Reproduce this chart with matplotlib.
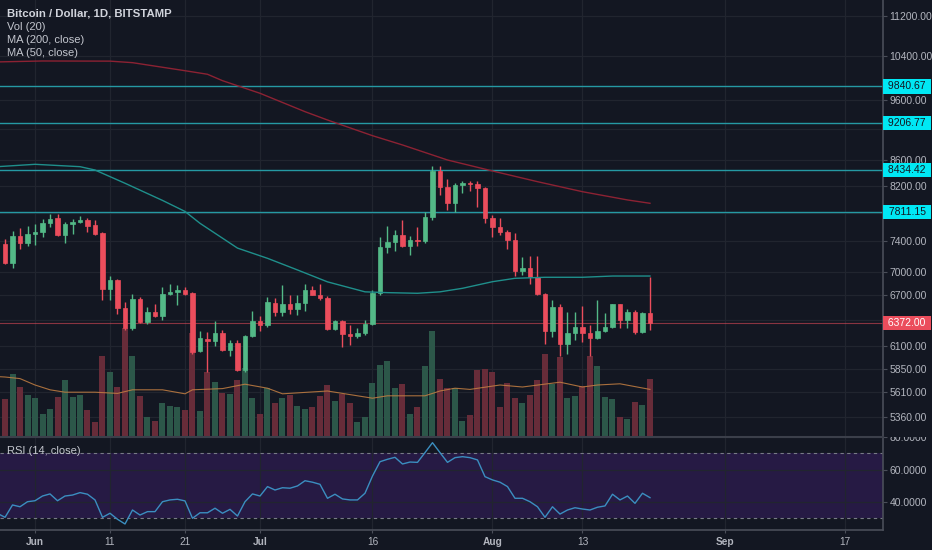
import matplotlib
matplotlib.use('Agg')
import matplotlib.pyplot as plt
import matplotlib.dates as mdates
import matplotlib.transforms as mtransforms
from matplotlib.patches import Rectangle
from matplotlib.ticker import NullLocator
import numpy as np
import pandas as pd

plt.rcParams['font.family'] = ['Liberation Sans', 'DejaVu Sans']

# ---------------- data ----------------
dates = pd.date_range('2018-05-28', '2018-08-22', freq='D')
opens = [7361, 7117, 7475, 7375, 7498, 7525, 7660, 7720, 7488, 7637, 7673, 7698, 7625, 7510, 6777, 6893,
         6551, 6308, 6660, 6384, 6496, 6455, 6718, 6747, 6768, 6735, 6050, 6181, 6157, 6257, 6061, 6143,
         5842, 6219, 6393, 6346, 6605, 6503, 6596, 6532, 6612, 6768, 6706, 6672, 6296, 6393, 6242, 6219,
         6257, 6358, 6734, 7321, 7396, 7488, 7338, 7420, 7400, 7736, 8424, 8184, 7938, 8209, 8245, 8225,
         8169, 7722, 7603, 7534, 7420, 7013, 7043, 6935, 6720, 6280, 6556, 6131, 6257, 6319, 6257, 6192,
         6276, 6326, 6592, 6404, 6496, 6261, 6490]
highs = [7433, 7548, 7581, 7613, 7642, 7712, 7783, 7783, 7668, 7712, 7750, 7720, 7698, 7525, 6940, 6905,
         6622, 6715, 6680, 6555, 6590, 6804, 6843, 6830, 6804, 6745, 6280, 6270, 6390, 6283, 6170, 6170,
         6225, 6515, 6452, 6680, 6668, 6830, 6705, 6705, 6843, 6823, 6843, 6690, 6410, 6400, 6346, 6308,
         6405, 6768, 7465, 7613, 7561, 7698, 7470, 7605, 7808, 8500, 8500, 8296, 8244, 8270, 8270, 8270,
         8175, 7765, 7720, 7561, 7514, 7186, 7200, 7200, 6730, 6644, 6590, 6503, 6503, 6570, 6346, 6644,
         6492, 6600, 6600, 6540, 6527, 6500, 6928]
lows = [7098, 7051, 7294, 7342, 7352, 7460, 7605, 7480, 7375, 7498, 7650, 7530, 7488, 6644, 6644, 6480,
        6290, 6283, 6370, 6360, 6445, 6405, 6700, 6582, 6705, 6020, 6042, 5820, 6100, 6050, 5990, 5836,
        5820, 6207, 6280, 6325, 6446, 6446, 6478, 6467, 6515, 6700, 6644, 6283, 6290, 6089, 6115, 6192,
        6230, 6346, 6700, 7250, 7273, 7330, 7220, 7338, 7380, 7693, 8063, 7841, 7818, 8090, 8112, 7889,
        7660, 7455, 7488, 7294, 6944, 6955, 6840, 6700, 6131, 6207, 5997, 6017, 6170, 6150, 5990, 6180,
        6260, 6308, 6308, 6308, 6240, 6255, 6283]
closes = [7117, 7475, 7375, 7498, 7525, 7660, 7712, 7488, 7637, 7673, 7698, 7618, 7498, 6777, 6893, 6551,
          6308, 6660, 6384, 6496, 6455, 6718, 6747, 6768, 6718, 6042, 6192, 6157, 6257, 6061, 6143, 5842,
          6219, 6393, 6346, 6624, 6503, 6596, 6532, 6612, 6768, 6706, 6672, 6296, 6393, 6242, 6219, 6257,
          6358, 6734, 7321, 7396, 7488, 7338, 7420, 7400, 7736, 8424, 8184, 7938, 8209, 8245, 8225, 8169,
          7722, 7603, 7534, 7420, 7013, 7043, 6935, 6718, 6280, 6556, 6131, 6257, 6319, 6257, 6192, 6276,
          6326, 6592, 6404, 6496, 6261, 6490, 6372]
# volume, thousand BTC
volume = [9.5, 15.7, 12.6, 10.4, 9.7, 5.7, 6.9, 10.1, 14.3, 10.0, 10.5, 6.8, 3.8, 20.3, 16.3, 12.6,
          27.2, 20.3, 10.3, 5.1, 4.1, 8.4, 7.8, 7.4, 6.8, 26.0, 6.5, 16.3, 13.8, 11.1, 10.7, 14.3,
          17.2, 9.8, 5.8, 12.2, 8.4, 9.7, 10.5, 7.8, 6.9, 7.4, 10.3, 13.0, 9.1, 10.8, 8.4, 3.7,
          5.1, 13.4, 18.0, 19.0, 12.3, 13.2, 5.8, 7.4, 17.8, 26.5, 14.5, 12.2, 12.2, 4.1, 5.5, 16.8,
          16.9, 16.3, 7.4, 13.6, 9.7, 8.6, 10.5, 14.3, 20.8, 13.3, 19.9, 9.7, 10.3, 12.8, 20.3, 17.8,
          9.9, 9.4, 5.1, 4.5, 8.8, 8.0, 14.4]
vol_ma_dates = ['2018-05-27', '2018-05-28', '2018-05-30', '2018-06-01', '2018-06-03', '2018-06-05',
                '2018-06-09', '2018-06-12', '2018-06-14', '2018-06-18', '2018-06-21', '2018-06-22',
                '2018-06-26', '2018-06-29', '2018-07-02', '2018-07-04', '2018-07-10', '2018-07-14',
                '2018-07-16', '2018-07-18', '2018-07-23', '2018-07-25', '2018-07-27', '2018-07-29',
                '2018-08-02', '2018-08-05', '2018-08-10', '2018-08-13', '2018-08-15', '2018-08-18',
                '2018-08-22']
vol_ma = [15.1, 15.0, 14.6, 13.0, 11.8, 11.2, 11.2, 10.9, 11.8, 11.8, 10.8, 11.8, 12.1, 13.2, 12.2,
          10.8, 11.5, 10.3, 9.7, 10.3, 10.3, 11.5, 12.2, 11.9, 13.0, 12.5, 13.7, 12.5, 13.0, 13.3, 11.9]
ma200_dates = ['2018-05-27', '2018-06-02', '2018-06-11', '2018-06-14', '2018-06-21', '2018-06-24',
               '2018-06-26', '2018-07-01', '2018-07-07', '2018-07-10', '2018-07-16', '2018-07-20',
               '2018-07-26', '2018-08-01', '2018-08-07', '2018-08-13', '2018-08-19', '2018-08-22']
ma200 = [10295, 10313, 10310, 10281, 10130, 10064, 9946, 9718, 9395, 9252, 8989, 8837, 8596, 8424,
         8260, 8109, 7987, 7938]
ma50_dates = ['2018-05-27', '2018-06-01', '2018-06-07', '2018-06-09', '2018-06-13', '2018-06-18',
              '2018-06-21', '2018-06-23', '2018-06-28', '2018-07-02', '2018-07-06', '2018-07-10',
              '2018-07-15', '2018-07-18', '2018-07-22', '2018-07-25', '2018-07-28', '2018-08-01',
              '2018-08-04', '2018-08-08', '2018-08-13', '2018-08-17', '2018-08-22']
ma50 = [8491, 8528, 8491, 8439, 8236, 7980, 7820, 7651, 7310, 7174, 7022, 6870, 6745, 6735, 6727,
        6745, 6789, 6872, 6915, 6928, 6928, 6944, 6944]
rsi_dates = pd.date_range('2018-05-27', '2018-08-22', freq='D')
rsi = [33.0, 30.6, 38.2, 37.1, 40.2,
       40.8, 43.7, 45.0, 40.8, 43.7, 44.3, 45.8, 44.8, 41.3, 30.6,
       33.1, 29.4, 26.5, 35.1, 32.0, 34.1, 34.1, 40.2, 41.3, 41.7,
       40.7, 30.0, 33.4, 33.4, 36.2, 33.1, 35.5, 31.4, 40.2, 45.0,
       43.7, 49.5, 47.4, 48.8, 48.5, 49.9, 53.1, 52.2, 50.9, 42.3,
       44.8, 41.9, 41.3, 41.3, 45.4, 56.0, 64.8, 66.3, 67.5, 63.4,
       64.6, 64.4, 70.4, 76.5, 70.4, 64.4, 67.3, 67.9, 67.3, 65.9, 55.6,
       53.6, 52.2, 49.5, 42.3, 42.3, 40.2, 37.1, 30.6, 37.1, 32.6,
       35.1, 36.5, 35.7, 35.1, 36.8, 37.6, 44.8, 41.3, 43.7, 39.2,
       45.4, 42.7]
levels = [9840.67, 9206.77, 8434.42, 7811.15]
last_price = 6372.00
price_ticks = [5360, 5610, 5850, 6100, 6400, 6700, 7000, 7400, 7800, 8200, 8600, 9100, 9600, 10400, 11200]
hidden_price_ticks = [6400, 7800, 9100]   # labels covered by the level boxes
rsi_ticks = [40, 60, 80]
x_tick_dates = ['2018-06-01', '2018-06-11', '2018-06-21', '2018-07-01', '2018-07-16',
                '2018-08-01', '2018-08-13', '2018-09-01', '2018-09-17']
x_tick_labels = ['Jun', '11', '21', 'Jul', '16', 'Aug', '13', 'Sep', '17']
x_month_labels = ['Jun', 'Jul', 'Aug', 'Sep']

# ---------------- style ----------------
BG = '#131722'
GRID = '#21252f'
UP = '#53b987'
DOWN = '#eb4d5c'
VOL_UP = '#2c5749'
VOL_DOWN = '#672c39'
TXT = '#b2b5be'
BORDER = '#4a4e59'

W, H = 932, 550
fig = plt.figure(figsize=(W / 100, H / 100), dpi=100, facecolor=BG)


def px_rect(x0, y0, x1, y1):
    return [x0 / W, 1 - y1 / H, (x1 - x0) / W, (y1 - y0) / H]


AX_R, MAIN_B, RSI_B = 883, 437, 530
ax_p = fig.add_axes(px_rect(0, 0, AX_R, MAIN_B))
ax_v = fig.add_axes(px_rect(0, 0, AX_R, MAIN_B), sharex=ax_p)
ax_c = fig.add_axes(px_rect(0, 0, AX_R, MAIN_B), sharex=ax_p, sharey=ax_p)
ax_r = fig.add_axes(px_rect(0, MAIN_B, AX_R, RSI_B), sharex=ax_p)

x = mdates.date2num(dates)
o = np.array(opens, float)
h = np.array(highs, float)
l = np.array(lows, float)
c = np.array(closes, float)
up = c >= o
ccol = np.where(up, UP, DOWN)
vcol = np.where(up, VOL_UP, VOL_DOWN)

jun1 = mdates.date2num(pd.Timestamp('2018-06-01'))
ax_p.set_xlim(jun1 - 4.667, jun1 + 113.07)

# price pane (background, grid, levels, axis)
ax_p.set_facecolor(BG)
ax_p.set_yscale('log')
ax_p.set_ylim(5164.5, 11537)
ax_p.set_yticks(price_ticks)
ax_p.set_yticklabels(['' if t in hidden_price_ticks else f'{t:.2f}' for t in price_ticks])
ax_p.yaxis.set_minor_locator(NullLocator())
ax_p.yaxis.tick_right()
ax_p.tick_params(axis='y', colors=BORDER, labelcolor=TXT, labelsize=7.5, length=3, pad=1.5, width=0.8)
ax_p.tick_params(axis='x', bottom=False, labelbottom=False)
ax_p.grid(True, color=GRID, lw=0.9)
ax_p.set_axisbelow(True)
for s in ['top', 'left', 'bottom']:
    ax_p.spines[s].set_visible(False)
ax_p.spines['right'].set_color(BORDER)
ax_p.spines['right'].set_linewidth(1.2)

for lv in levels:
    ax_p.axhline(lv, color='#2599a3', lw=1.0, zorder=2)
ax_p.axhline(last_price, color=DOWN, lw=0.8, alpha=0.55, zorder=2)

blend = mtransforms.blended_transform_factory(ax_p.transAxes, ax_p.transData)
xc = 907 / AX_R
for lv in levels:
    ax_p.text(xc, lv, f' {lv:.2f} ', transform=blend, ha='center', va='center', fontsize=7.5,
              color='#131722', clip_on=False, zorder=6,
              bbox=dict(boxstyle='square,pad=0.2', fc='#00e8f4', ec='none'))
ax_p.text(xc, last_price, f' {last_price:.2f} ', transform=blend, ha='center', va='center',
          fontsize=7.5, color='white', clip_on=False, zorder=6,
          bbox=dict(boxstyle='square,pad=0.2', fc=DOWN, ec='none'))

# volume pane overlay
ax_v.patch.set_visible(False)
ax_v.bar(x, volume, width=0.8, color=vcol, linewidth=0)
ax_v.plot(mdates.date2num(pd.to_datetime(vol_ma_dates)), vol_ma, color='#c47f42', lw=0.8, alpha=0.85)
ax_v.set_ylim(0, 109.25)
ax_v.axis('off')

# candles + moving averages
ax_c.patch.set_visible(False)
ax_c.vlines(x, l, h, colors=ccol, lw=1.0)
ax_c.bar(x, np.abs(c - o), bottom=np.minimum(o, c), width=0.66, color=ccol, edgecolor=ccol, linewidth=0.5)
ax_c.plot(mdates.date2num(pd.to_datetime(ma200_dates)), ma200, color='#8c2233', lw=1.0)
ax_c.plot(mdates.date2num(pd.to_datetime(ma50_dates)), ma50, color='#1f8f8b', lw=1.0)
ax_c.axis('off')

# RSI pane
ax_r.set_facecolor(BG)
ax_r.set_ylim(22.8, 80.0)
ax_r.axhspan(30, 70, color='#261a44', zorder=0, lw=0)
ax_r.axhline(70, color='#787b86', lw=0.8, ls=(0, (3, 3)), zorder=1)
ax_r.axhline(30, color='#787b86', lw=0.8, ls=(0, (3, 3)), zorder=1)
ax_r.plot(mdates.date2num(rsi_dates), rsi, color='#3b8ec0', lw=1.0, zorder=3)
ax_r.set_yticks(rsi_ticks)
ax_r.set_yticklabels([f'{t:.4f}' for t in rsi_ticks])
ax_r.yaxis.tick_right()
ax_r.tick_params(axis='y', colors=BORDER, labelcolor=TXT, labelsize=7.5, length=3, pad=1.5, width=0.8)
ax_r.set_xticks(mdates.date2num(pd.to_datetime(x_tick_dates)))
ax_r.set_xticklabels(x_tick_labels)
ax_r.tick_params(axis='x', colors=BORDER, labelcolor=TXT, labelsize=7.3, length=2, pad=3, width=0.8)
for t in ax_r.get_xticklabels():
    if t.get_text() in x_month_labels:
        t.set_fontweight('bold')
ax_r.grid(True, color=GRID, lw=0.9, zorder=1)
ax_r.set_axisbelow(True)
ax_r.spines['left'].set_visible(False)
for s in ['right', 'bottom']:
    ax_r.spines[s].set_color(BORDER)
    ax_r.spines[s].set_linewidth(1.2)
ax_r.spines['top'].set_color('#3b3f4a')
ax_r.spines['top'].set_linewidth(1.5)

# hide top half of the clipped 80.0000 label
fig.add_artist(Rectangle((884.5 / W, 1 - 436.5 / H), 48 / W, 9 / H, transform=fig.transFigure,
                         fc=BG, ec='none', zorder=10))

# legend texts
fig.text(7 / W, 1 - 13.5 / H, 'Bitcoin / Dollar, 1D, BITSTAMP', fontsize=8.2, fontweight='bold',
         color='#d1d4dc', va='center', ha='left')
fig.text(7 / W, 1 - 26.5 / H, 'Vol (20)', fontsize=8, color='#c3c6ce', va='center', ha='left')
fig.text(7 / W, 1 - 40 / H, 'MA (200, close)', fontsize=8, color='#c3c6ce', va='center', ha='left')
fig.text(7 / W, 1 - 53.5 / H, 'MA (50, close)', fontsize=8, color='#c3c6ce', va='center', ha='left')
fig.text(7 / W, 1 - 451 / H, 'RSI (14, close)', fontsize=8, color='#c3c6ce', va='center', ha='left')

fig.savefig('out.png', dpi=100, facecolor=BG)
